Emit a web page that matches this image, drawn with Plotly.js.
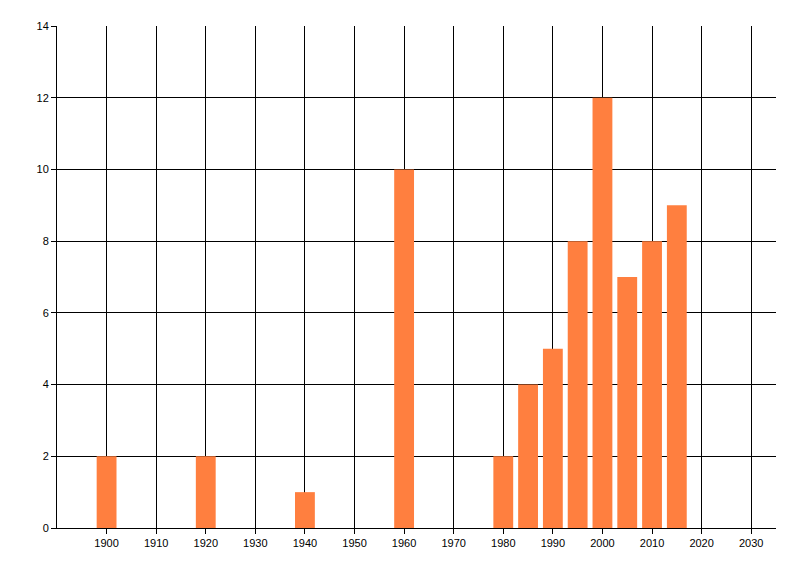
<!DOCTYPE html>
<html>
<head>
<meta charset="utf-8">
<script src="https://cdn.plot.ly/plotly-3.0.1.min.js"></script>
<style>html,body{margin:0;padding:0;background:#fff;}#chart{width:800px;height:576px;}</style>
</head>
<body>
<div id="chart"></div>
<script>
const years = [1900, 1920, 1940, 1960, 1980, 1985, 1990, 1995, 2000, 2005, 2010, 2015];
const counts = [2, 2, 1, 10, 2, 4, 5, 8, 12, 7, 8, 9];
const xTicks = [1900, 1910, 1920, 1930, 1940, 1950, 1960, 1970, 1980, 1990, 2000, 2010, 2020, 2030];
const yTicks = [0, 2, 4, 6, 8, 10, 12, 14];

Plotly.newPlot('chart', [{
  type: 'bar',
  x: years,
  y: counts,
  width: 4,
  marker: {color: '#FF7F3F', line: {width: 0}},
  hoverinfo: 'x+y'
}], {
  width: 800,
  height: 576,
  margin: {l: 57, r: 24, t: 26, b: 48, pad: 0},
  paper_bgcolor: '#fff',
  plot_bgcolor: '#fff',
  showlegend: false,
  font: {family: 'Liberation Sans, Arial, sans-serif', size: 11, color: '#000'},
  xaxis: {
    range: [1890, 2035],
    tickmode: 'array',
    tickvals: xTicks,
    ticktext: xTicks.map(String),
    showgrid: true,
    gridcolor: '#000',
    gridwidth: 1,
    zeroline: false,
    showline: true,
    linecolor: '#000',
    linewidth: 1,
    ticks: 'outside',
    ticklen: 5,
    tickcolor: '#000',
    tickfont: {size: 11, color: '#000'}
  },
  yaxis: {
    range: [0, 14],
    tickmode: 'array',
    tickvals: yTicks,
    ticktext: yTicks.map(String),
    showgrid: true,
    gridcolor: '#000',
    gridwidth: 1,
    zeroline: false,
    showline: true,
    linecolor: '#000',
    linewidth: 1,
    ticks: 'outside',
    ticklen: 5,
    tickcolor: '#000',
    tickfont: {size: 11, color: '#000'}
  }
}, {displayModeBar: false, staticPlot: true});
</script>
</body>
</html>
